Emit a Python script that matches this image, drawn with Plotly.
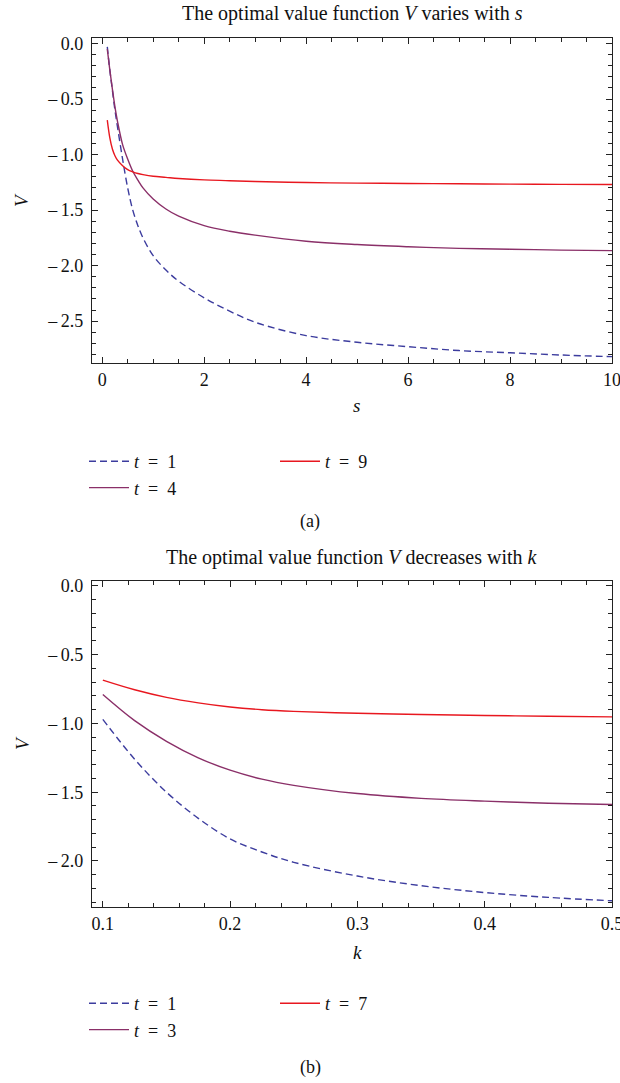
import plotly.graph_objects as go

# ---------- data: panel (a) ----------
s_vals = [0.1, 0.15, 0.2, 0.25, 0.3, 0.4, 0.5, 0.6, 0.7, 0.8, 1.0, 1.25, 1.5,
          2, 2.5, 3, 4, 5, 6, 7, 8, 9, 10]
V_s_t1 = [-0.03, -0.24, -0.42, -0.6, -0.75, -1.04, -1.3, -1.5, -1.64, -1.75, -1.91,
          -2.04, -2.14, -2.29, -2.41, -2.51, -2.63, -2.69, -2.73, -2.765, -2.785, -2.805, -2.82]
V_s_t4 = [-0.05, -0.24, -0.41, -0.57, -0.7, -0.91, -1.04, -1.15, -1.23, -1.3, -1.4,
          -1.49, -1.555, -1.64, -1.69, -1.725, -1.78, -1.81, -1.83, -1.845, -1.852, -1.86, -1.865]
V_s_t9 = [-0.69, -0.85, -0.95, -1.01, -1.05, -1.1, -1.135, -1.155, -1.17, -1.18, -1.195,
          -1.205, -1.215, -1.228, -1.235, -1.243, -1.252, -1.257, -1.26, -1.263, -1.266, -1.268, -1.27]

# ---------- data: panel (b) ----------
k_vals = [0.1, 0.125, 0.15, 0.175, 0.2, 0.225, 0.25, 0.3, 0.35, 0.4, 0.45, 0.5]
V_k_t1 = [-0.97, -1.26, -1.5, -1.69, -1.84, -1.935, -2.01, -2.11, -2.18, -2.23, -2.265, -2.29]
V_k_t3 = [-0.79, -0.98, -1.13, -1.25, -1.34, -1.405, -1.45, -1.51, -1.545, -1.565, -1.58, -1.59]
V_k_t7 = [-0.685, -0.755, -0.81, -0.85, -0.88, -0.9, -0.912, -0.926, -0.935, -0.942, -0.948, -0.952]

SP = "\u2002"
labels_a = [f"<i>t</i>{SP}={SP}1", f"<i>t</i>{SP}={SP}4", f"<i>t</i>{SP}={SP}9"]
labels_b = [f"<i>t</i>{SP}={SP}1", f"<i>t</i>{SP}={SP}3", f"<i>t</i>{SP}={SP}7"]

yticks_a = [0, -0.5, -1, -1.5, -2, -2.5]
yticks_b = [0, -0.5, -1, -1.5, -2]
xticks_a = [0, 2, 4, 6, 8, 10]
xticks_b = [0.1, 0.2, 0.3, 0.4, 0.5]

BLUE = "#3c3c9e"
PURPLE = "#8a2f68"
RED = "#e8171f"
FONT = "Liberation Serif"

def ylab(v):
    return "0.0" if v == 0 else "\u2013\u2009" + f"{abs(v):.1f}"

fig = go.Figure()

def add(x, y, name, color, dash, xa, ya, legend, rank):
    fig.add_trace(go.Scatter(
        x=x, y=y, name=name, mode="lines", line_shape="spline",
        line=dict(color=color, width=1.4, dash=dash),
        xaxis=xa, yaxis=ya, legend=legend, legendrank=rank))

add(s_vals, V_s_t1, labels_a[0], BLUE, "7px,4px", "x", "y", "legend", 1)
add(s_vals, V_s_t4, labels_a[1], PURPLE, "solid", "x", "y", "legend", 3)
add(s_vals, V_s_t9, labels_a[2], RED, "solid", "x", "y", "legend", 2)

add(k_vals, V_k_t1, labels_b[0], BLUE, "7px,4px", "x2", "y2", "legend2", 1)
add(k_vals, V_k_t3, labels_b[1], PURPLE, "solid", "x2", "y2", "legend2", 3)
add(k_vals, V_k_t7, labels_b[2], RED, "solid", "x2", "y2", "legend2", 2)

axis_common = dict(
    showline=True, linecolor="#222", linewidth=1.2, mirror="allticks",
    ticks="inside", ticklen=6, tickwidth=1, tickcolor="#222",
    showgrid=False, zeroline=False, ticklabeloverflow="allow",
    tickfont=dict(family=FONT, size=18, color="#111"),
)

# plot area: x 92..612, y 38..907 ; paper starts at x=80
L = 80
W = 620 - L - 8
H_TOP, H_BOT = 38, 907
span = H_BOT - H_TOP
def fy(py):
    return (H_BOT - py) / span
def fx(px):
    return (px - L) / W

legend_common = dict(orientation="h", xanchor="left", yanchor="top",
                     entrywidth=136, entrywidthmode="pixels", traceorder="normal",
                     font=dict(family=FONT, size=18), bgcolor="rgba(0,0,0,0)", itemwidth=40)

fig.update_layout(
    width=620, height=1083,
    margin=dict(l=L, r=8, t=H_TOP, b=1083 - H_BOT, autoexpand=False),
    paper_bgcolor="white", plot_bgcolor="white",
    font=dict(family=FONT, size=18, color="#111"),
    xaxis=dict(**axis_common, domain=[fx(92), 1], anchor="y", range=[-0.2, 10],
               tickvals=xticks_a, ticktext=[str(v) for v in xticks_a],
               minor=dict(ticks="inside", ticklen=3.5, dtick=0.5, tick0=0, tickcolor="#222")),
    yaxis=dict(**axis_common, domain=[fy(363), 1], anchor="x", range=[-2.877, 0.05],
               tickvals=yticks_a, ticktext=[ylab(v) for v in yticks_a], ticklabelstandoff=4,
               minor=dict(ticks="inside", ticklen=3.5, dtick=0.1, tick0=0, tickcolor="#222")),
    xaxis2=dict(**axis_common, domain=[fx(92), 1], anchor="y2", range=[0.0915, 0.5],
                tickvals=xticks_b, ticktext=[f"{v:.1f}" for v in xticks_b],
                minor=dict(ticks="inside", ticklen=3.5, dtick=0.02, tick0=0.1, tickcolor="#222")),
    yaxis2=dict(**axis_common, domain=[0, fy(581)], anchor="x2", range=[-2.335, 0.036],
                tickvals=yticks_b, ticktext=[ylab(v) for v in yticks_b], ticklabelstandoff=4,
                minor=dict(ticks="inside", ticklen=3.5, dtick=0.1, tick0=0, tickcolor="#222")),
    legend=dict(**legend_common, x=fx(84), y=fy(443)),
    legend2=dict(**legend_common, x=fx(84), y=fy(985)),
    showlegend=True,
)

def note(text, px, py, size=18, angle=0):
    fig.add_annotation(text=text, xref="paper", yref="paper",
                       x=fx(px), y=fy(py), showarrow=False,
                       xanchor="center", yanchor="middle", textangle=angle,
                       font=dict(family=FONT, size=size, color="#111"))

note("The optimal value function <i>V</i> varies with <i>s</i>", 352, 14, size=20)
note("<i>V</i>", 22, 200, size=19, angle=-90)
note("<i>s</i>", 356, 406, size=19)
note("(a)", 310, 521)
note("The optimal value function <i>V</i> decreases with <i>k</i>", 352, 557, size=20)
note("<i>V</i>", 22, 743, size=19, angle=-90)
note("<i>k</i>", 357, 952, size=19)
note("(b)", 310, 1067)

fig.write_html("out.html", config={"displayModeBar": False},
               post_script="document.body.style.margin='0px';")
